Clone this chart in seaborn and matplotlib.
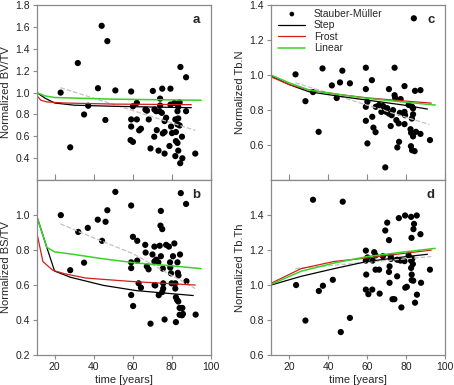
import numpy as np
import pandas as pd
import seaborn as sns
from matplotlib import pyplot as plt

# ---- panel a : BV/TV ----
a_age = [23.1, 28, 31.9, 35.1, 37.2, 42.2, 44.1, 47, 46, 51.1, 59.2, 59.2, 59.2, 62.1, 60.1, 62.1,
         58.9, 60.1, 63.3, 64.2, 66.5, 67.3, 68.2, 69.1, 70.3, 71.1, 72, 71, 72.3, 73.2, 74, 74,
         73.7, 74.9, 75.1, 75.4, 76.3, 76.3, 76.3, 77.1, 79.3, 79.3, 78.8, 79.6, 80.1, 81.3, 81.8,
         82.1, 81.8, 82.1, 82.9, 82.9, 83.3, 83.3, 82.9, 84, 84.4, 84, 83.3, 84.3, 85.2, 85.4,
         87.3, 87.3, 92]
a_val = [1.0, 0.50, 1.27, 0.80, 0.88, 1.04, 1.61, 1.47, 0.75, 1.02, 1.01, 0.755, 0.69, 0.755, 0.875,
         0.906, 0.566, 0.55, 0.655, 0.67, 0.845, 0.835, 0.755, 0.49, 1.015, 0.845, 0.83, 0.597,
         0.657, 0.47, 0.945, 0.882, 0.83, 0.815, 1.036, 0.627, 0.64, 0.443, 0.74, 0.77, 1.036,
         0.89, 0.512, 0.69, 0.63, 0.906, 0.755, 0.64, 0.42, 0.557, 0.54, 0.83, 0.87, 0.764, 0.71,
         0.70, 1.234, 0.91, 0.47, 0.355, 0.597, 0.40, 1.14, 0.83, 0.443]
a_step_x = [11, 15, 20, 30, 50, 70, 90]
a_step_y = [1.0, 0.95, 0.905, 0.885, 0.875, 0.868, 0.862]
a_frost_x = [11, 13, 16, 25, 50, 90]
a_frost_y = [0.97, 0.93, 0.915, 0.905, 0.895, 0.89]
a_lin_x = [11, 15, 20, 30, 50, 95]
a_lin_y = [1.0, 0.97, 0.955, 0.95, 0.94, 0.93]
a_reg_x = [23, 92]
a_reg_y = [1.045, 0.655]

# ---- panel b : BS/TV ----
b_age = [23.2, 28, 32.1, 35.1, 37, 42.1, 44.3, 46.1, 47, 51.1, 59.2, 60.1, 62.3, 59.2, 59.2, 59.2,
         60.2, 62.3, 63, 64.2, 66.4, 66.6, 67.2, 68.1, 69.1, 70.1, 71.1, 71.1, 72, 71.5, 71.2,
         73.1, 73.3, 73.8, 74.4, 74.2, 75.1, 74.4, 75.4, 75.6, 75.6, 75.1, 76.3, 77.1, 78.5, 79.1,
         79.2, 79.6, 79.9, 80.6, 81.3, 81.8, 81.8, 82.1, 82.7, 82.1, 82.9, 83.1, 83.4, 83.3, 84,
         85.4, 84.2, 84.6, 84, 85.2, 85.7, 87.3, 87.5, 92.2]
b_val = [1.0, 0.685, 0.904, 0.728, 0.927, 0.974, 0.853, 0.962, 1.028, 1.133, 1.055, 0.876, 0.853,
         0.73, 0.697, 0.543, 0.48, 0.74, 0.61, 0.585, 0.83, 0.786, 0.707, 0.69, 0.379, 0.775,
         0.82, 0.735, 0.745, 0.598, 0.60, 0.73, 0.542, 0.825, 1.024, 0.94, 0.92, 0.765, 0.694,
         0.61, 0.58, 0.56, 0.403, 0.83, 0.82, 0.73, 0.70, 0.667, 0.61, 0.765, 0.838, 0.61, 0.58,
         0.53, 0.515, 0.388, 0.73, 0.67, 0.655, 0.506, 0.469, 0.469, 0.775, 1.126, 0.43, 0.427,
         0.435, 1.064, 0.622, 0.431]
b_step_x = [11, 16, 20, 28, 45, 62, 91]
b_step_y = [0.99, 0.816, 0.68, 0.645, 0.598, 0.568, 0.54]
b_frost_x = [11, 14, 19, 25, 36, 60, 92]
b_frost_y = [0.895, 0.735, 0.685, 0.665, 0.64, 0.62, 0.60]
b_lin_x = [11, 16, 20, 30, 45, 62, 80, 95]
b_lin_y = [0.99, 0.816, 0.79, 0.775, 0.75, 0.726, 0.71, 0.694]
b_reg_x = [23, 40, 60, 92]
b_reg_y = [0.95, 0.87, 0.78, 0.58]

# ---- panel c : Tb.N ----
c_age = [23.1, 28.2, 32.1, 35, 37, 41.8, 44.3, 46, 47.2, 51.1, 59.3, 59.3, 60.1, 59.3, 59.3, 60.1,
         62.4, 62.6, 63.2, 64.3, 64.4, 66.1, 67.3, 68.2, 69.3, 69.8, 70.3, 71.2, 71.2, 72.1, 72.6,
         73.3, 74.1, 74.1, 74.4, 75, 75.5, 76.2, 76.4, 77.2, 76.8, 79.2, 79.2, 79.5, 79.2, 81.3,
         82.5, 83.1, 83, 83.6, 82.3, 82.6, 83.6, 83.1, 84.6, 84, 84.4, 85.1, 87.4, 87.4, 83.6, 92.3]
c_val = [1.004, 0.851, 0.903, 0.676, 1.038, 0.941, 0.869, 0.958, 1.025, 0.953, 1.042, 0.92, 0.847,
         0.819, 0.739, 0.61, 0.971, 0.762, 0.70, 0.674, 0.819, 0.829, 0.79, 0.823, 0.473, 0.79,
         0.811, 0.92, 0.78, 0.709, 0.771, 0.80, 1.042, 0.885, 0.869, 0.743, 0.587, 0.724, 0.619,
         0.863, 0.784, 0.937, 0.79, 0.771, 0.72, 0.83, 0.594, 0.819, 0.752, 0.81, 0.691, 0.67, 0.65,
         0.571, 0.91, 1.324, 0.566, 0.676, 0.914, 0.664, 0.776, 0.629]
c_step_x = [10.5, 20, 30, 45, 60, 78, 91]
c_step_y = [0.995, 0.945, 0.905, 0.88, 0.857, 0.83, 0.806]
c_frost_x = [10.5, 20, 30, 45, 60, 78, 93]
c_frost_y = [0.99, 0.945, 0.915, 0.89, 0.87, 0.853, 0.84]
c_lin_x = [10.5, 20, 30, 45, 60, 78, 95]
c_lin_y = [1.0, 0.955, 0.915, 0.89, 0.867, 0.847, 0.829]
c_reg_x = [23, 92]
c_reg_y = [0.956, 0.718]

# ---- panel d : Tb.Th ----
d_age = [23.4, 28.2, 32.1, 35.1, 37.2, 42.3, 47.4, 46.4, 51.1, 59.3, 60.1, 59.3, 59.5, 59.3, 60.6,
         62.8, 63.6, 64.3, 62.6, 64.3, 66.1, 66.4, 68.1, 69.3, 70.3, 71.2, 71.5, 71.2, 71.5, 72.1,
         73, 74, 72.2, 75.4, 75.4, 76.3, 77.1, 77.6, 79.2, 79.5, 79.6, 80.4, 81.3, 82.6, 82.6,
         82.6, 82.9, 82.9, 83.2, 83.8, 84.1, 82.8, 83.7, 84.6, 85.6, 85.5, 87.4, 87.7, 92.3, 83.5]
d_val = [1.0, 0.797, 1.488, 0.966, 0.996, 1.03, 1.477, 0.731, 0.812, 1.197, 1.158, 1.14, 1.06,
         0.974, 0.948, 1.14, 1.188, 1.17, 0.974, 1.088, 1.088, 0.951, 1.165, 1.312, 1.357, 1.257,
         1.107, 1.075, 1.013, 1.165, 0.919, 0.919, 1.15, 1.145, 1.05, 1.383, 1.14, 0.872, 1.137,
         1.398, 0.985, 0.99, 1.17, 1.14, 1.39, 1.098, 1.06, 1.028, 1.15, 1.32, 1.35, 1.27, 1.025,
         0.899, 0.945, 1.398, 1.291, 1.013, 1.088, 1.12]
d_step_x = [10.5, 26, 43, 60, 78, 91]
d_step_y = [1.0, 1.05, 1.094, 1.135, 1.16, 1.176]
d_frost_x = [10.5, 26, 43, 60, 78, 93]
d_frost_y = [1.01, 1.094, 1.135, 1.155, 1.18, 1.2]
d_lin_x = [10.5, 26, 43, 60, 78, 95]
d_lin_y = [1.004, 1.079, 1.126, 1.163, 1.188, 1.21]
d_reg_x = [23, 93]
d_reg_y = [1.094, 1.163]

sns.set_style("ticks")
plt.rcParams['font.family'] = ['Liberation Sans', 'DejaVu Sans']
plt.rcParams['font.size'] = 7.5

fig = plt.figure(figsize=(4.54, 3.85), dpi=100)
frame_col = '#8a8a8a'

panels = [
    # letter, rect, data..., ylim, yticks, ylabel, bottom?, xlim
    ('a', [0.0815, 0.532, 0.383, 0.455], a_age, a_val, (a_step_x, a_step_y), (a_frost_x, a_frost_y),
     (a_lin_x, a_lin_y), (a_reg_x, a_reg_y), (0.2, 1.8), [0.4, 0.6, 0.8, 1.0, 1.2, 1.4, 1.6, 1.8],
     'Normalized BV/TV', False, (11, 100)),
    ('b', [0.0815, 0.078, 0.383, 0.454], b_age, b_val, (b_step_x, b_step_y), (b_frost_x, b_frost_y),
     (b_lin_x, b_lin_y), (b_reg_x, b_reg_y), (0.2, 1.2), [0.2, 0.4, 0.6, 0.8, 1.0],
     'Normalized BS/TV', True, (11, 100)),
    ('c', [0.597, 0.532, 0.383, 0.455], c_age, c_val, (c_step_x, c_step_y), (c_frost_x, c_frost_y),
     (c_lin_x, c_lin_y), (c_reg_x, c_reg_y), (0.4, 1.4), [0.6, 0.8, 1.0, 1.2, 1.4],
     'Normalized Tb.N', False, (10.5, 100)),
    ('d', [0.597, 0.078, 0.383, 0.454], d_age, d_val, (d_step_x, d_step_y), (d_frost_x, d_frost_y),
     (d_lin_x, d_lin_y), (d_reg_x, d_reg_y), (0.6, 1.6), [0.6, 0.8, 1.0, 1.2, 1.4],
     'Normalized Tb.Th', True, (10.5, 100)),
]

for (letter, rect, age, val, step, frost, lin, reg, ylim, yticks, ylabel, bottom, xlim) in panels:
    ax = fig.add_axes(rect)
    sns.scatterplot(x=age, y=val, ax=ax, color='black', s=20, edgecolor='none',
                    label='Stauber-Müller', zorder=2)
    sns.lineplot(x=reg[0], y=reg[1], ax=ax, color='#c2c2c2', lw=0.9, dashes=(6, 3),
                 linestyle='--', sort=False, estimator=None)
    sns.lineplot(x=step[0], y=step[1], ax=ax, color='black', lw=0.9, label='Step',
                 sort=False, estimator=None)
    sns.lineplot(x=frost[0], y=frost[1], ax=ax, color='#d0201b', lw=0.9, label='Frost',
                 sort=False, estimator=None)
    sns.lineplot(x=lin[0], y=lin[1], ax=ax, color='#3bd12a', lw=1.1, label='Linear',
                 sort=False, estimator=None)
    ax.set_xlim(*xlim)
    ax.set_ylim(*ylim)
    ax.set_yticks(yticks)
    ax.set_yticklabels(['%.1f' % v for v in yticks])
    ax.set_xticks([20, 40, 60, 80, 100])
    ax.set_ylabel(ylabel, fontsize=8, labelpad=3)
    for sp in ax.spines.values():
        sp.set_visible(True)
        sp.set_color(frame_col)
        sp.set_linewidth(0.9)
    ax.tick_params(axis='y', length=3, width=0.8, color=frame_col, pad=2, labelsize=7.5,
                   labelcolor='#222222')
    if bottom:
        ax.set_xlabel('time [years]', fontsize=8, labelpad=2)
        ax.tick_params(axis='x', length=3, width=0.8, color=frame_col, pad=2, labelsize=7.5,
                       labelcolor='#222222')
    else:
        ax.set_xlabel('')
        ax.tick_params(axis='x', direction='in', length=4, width=0.8, color=frame_col,
                       labelbottom=False)
    ax.text(0.94, 0.95, letter, transform=ax.transAxes, ha='right', va='top',
            fontsize=9.5, fontweight='bold')
    if letter == 'c':
        ax.legend(loc='upper left', frameon=False, fontsize=7.5, handlelength=2.6,
                  handletextpad=0.8, labelspacing=0.15, borderaxespad=0.3,
                  markerscale=0.75, bbox_to_anchor=(0.0, 1.02))
    else:
        ax.get_legend().remove()

fig.savefig('out.png', dpi=100)
